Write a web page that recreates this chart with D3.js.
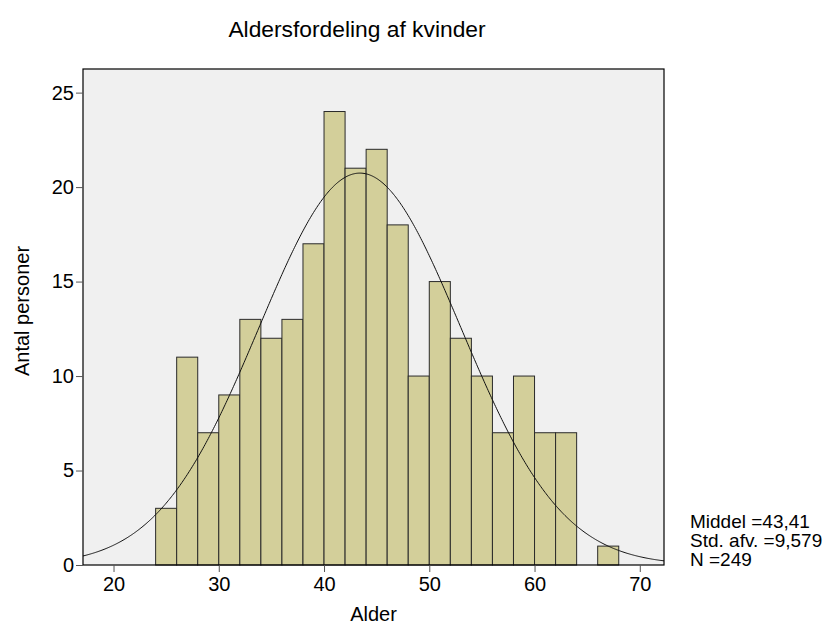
<!DOCTYPE html>
<html>
<head>
<meta charset="utf-8">
<script src="https://cdn.jsdelivr.net/npm/d3@7"></script>
<style>
  html, body { margin: 0; padding: 0; background: #fff; }
  svg { display: block; font-family: "Liberation Sans", Arial, sans-serif; }
</style>
</head>
<body>
<svg id="chart" width="825" height="626"></svg>
<script>
// ---- data ----
const binStarts = [24, 26, 28, 30, 32, 34, 36, 38, 40, 42, 44, 46, 48, 50, 52, 54, 56, 58, 60, 62, 64, 66];
const counts    = [3, 11, 7, 9, 13, 12, 13, 17, 24, 21, 22, 18, 10, 15, 12, 10, 7, 10, 7, 7, 0, 1];
const binWidth = 2;
const xTicks = [20, 30, 40, 50, 60, 70];
const yTicks = [0, 5, 10, 15, 20, 25];
const statMean = 43.41, statSd = 9.579, statN = 249;
const statLines = ["Middel =43,41", "Std. afv. =9,579", "N =249"];
const titleText = "Aldersfordeling af kvinder";
const xLabel = "Alder";
const yLabel = "Antal personer";

// ---- layout ----
const svg = d3.select("#chart");
const plot = { left: 83, right: 664, top: 69, bottom: 565 };

const x = d3.scaleLinear().domain([17.1, 72.3]).range([plot.left, plot.right]);
const y = d3.scaleLinear().domain([0, 26.25]).range([plot.bottom, plot.top]);

// background
svg.append("rect")
  .attr("x", plot.left).attr("y", plot.top)
  .attr("width", plot.right - plot.left).attr("height", plot.bottom - plot.top)
  .attr("fill", "#f0f0f0");

// bars
const bars = binStarts.map((s, i) => ({ x0: s, x1: s + binWidth, c: counts[i] })).filter(d => d.c > 0);
svg.append("g").selectAll("rect").data(bars).join("rect")
  .attr("x", d => x(d.x0))
  .attr("y", d => y(d.c))
  .attr("width", d => x(d.x1) - x(d.x0))
  .attr("height", d => y(0) - y(d.c))
  .attr("fill", "#d3cf9a")
  .attr("stroke", "#2a2a2a")
  .attr("stroke-width", 1);

// normal curve from stated mean / sd / N
const scaleF = statN * binWidth / (statSd * Math.sqrt(2 * Math.PI));
const curvePts = d3.range(17.1, 72.31, 0.1).map(v => [v, scaleF * Math.exp(-0.5 * Math.pow((v - statMean) / statSd, 2))]);
svg.append("path")
  .datum(curvePts)
  .attr("d", d3.line().x(d => x(d[0])).y(d => y(d[1])))
  .attr("fill", "none")
  .attr("stroke", "#111")
  .attr("stroke-width", 1);

// frame
svg.append("rect")
  .attr("x", plot.left).attr("y", plot.top)
  .attr("width", plot.right - plot.left).attr("height", plot.bottom - plot.top)
  .attr("fill", "none").attr("stroke", "#000").attr("stroke-width", 1.2);

// axes
const xAxis = d3.axisBottom(x).tickValues(xTicks).tickSize(7).tickPadding(5).tickFormat(d3.format("d"));
const gx = svg.append("g").attr("transform", `translate(0,${plot.bottom})`).call(xAxis);
gx.select(".domain").remove();
gx.selectAll("line").attr("stroke", "#555");
gx.selectAll("text").attr("font-size", 20).attr("fill", "#000").attr("font-family", "Liberation Sans, Arial, sans-serif");

const yAxis = d3.axisLeft(y).tickValues(yTicks).tickSize(7).tickPadding(2).tickFormat(d3.format("d"));
const gy = svg.append("g").attr("transform", `translate(${plot.left},0)`).call(yAxis);
gy.select(".domain").remove();
gy.selectAll("line").attr("stroke", "#555");
gy.selectAll("text").attr("font-size", 20).attr("fill", "#000").attr("font-family", "Liberation Sans, Arial, sans-serif");

// title & labels
svg.append("text").attr("x", 357).attr("y", 37).attr("text-anchor", "middle")
  .attr("font-size", 22.8).text(titleText);
svg.append("text").attr("x", (plot.left + plot.right) / 2).attr("y", 621).attr("text-anchor", "middle")
  .attr("font-size", 20).text(xLabel);
svg.append("text").attr("transform", `translate(29,311) rotate(-90)`)
  .attr("text-anchor", "middle").attr("font-size", 20).text(yLabel);

// stats
svg.append("g").selectAll("text").data(statLines).join("text")
  .attr("x", 690).attr("y", (d, i) => 528 + i * 19)
  .attr("font-size", 19).text(d => d);
</script>
</body>
</html>
